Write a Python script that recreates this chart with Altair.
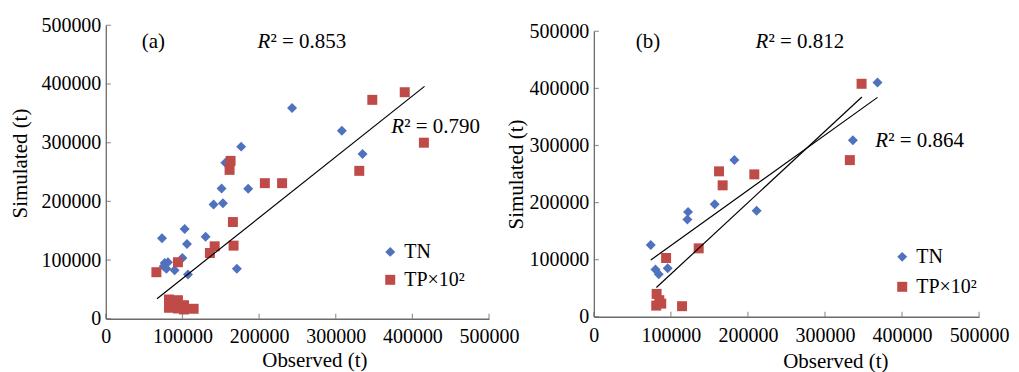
import altair as alt
import pandas as pd

SERIES = ["TN", "TP×10²"]
COLORS = ["#4F71BE", "#BE4B48"]
SHAPES = ["diamond", "square"]
TICKS = [0, 100000, 200000, 300000, 400000, 500000]
X_TITLE = "Observed (t)"
Y_TITLE = "Simulated (t)"

# ---- panel (a) ----
A_TN_X = [73300, 76800, 81100, 75500, 79000, 89800, 99900, 102900, 105900, 107200, 130200,
          140600, 151000, 152800, 156000, 176600, 185800, 171000, 243000, 308000, 335000]
A_TN_Y = [137000, 95200, 96300, 89500, 85000, 82700, 103700, 153000, 127400, 75300, 139900,
          194800, 222000, 197000, 266000, 293300, 221400, 85000, 359000, 320500, 280900]
A_TP_X = [66000, 94100, 82400, 82400, 94100, 94100, 102000, 102000, 114600, 135800, 142000,
          162800, 161500, 165800, 166700, 207500, 230000, 330700, 347700, 390000, 415000]
A_TP_Y = [79300, 96300, 32800, 18700, 31600, 17500, 23100, 15800, 17000, 112000, 123400,
          269000, 253700, 164800, 124600, 231000, 231000, 252000, 373000, 386000, 300000]
A_LINE_X = [66800, 415800]
A_LINE_Y = [34000, 396000]
A_TEXTS = ["(a)", "R", "² = 0.853", "R", "² = 0.790"]

# ---- panel (b) ----
B_TN_X = [73900, 80000, 84300, 95900, 121400, 122300, 156900, 182400, 211300, 336200, 368200]
B_TN_Y = [125600, 82600, 74400, 84900, 170300, 183700, 197100, 274400, 185500, 309300, 410500]
B_TP_X = [93800, 136100, 162500, 167200, 208300, 332300, 347500, 81500, 85000, 87500, 81000, 114500]
B_TP_Y = [102900, 119800, 254700, 230200, 249400, 274400, 408100, 40000, 29000, 23000, 19500, 18500]
B_LINE1_X = [73900, 368200]
B_LINE1_Y = [99400, 384300]
B_LINE2_X = [81200, 347900]
B_LINE2_Y = [51200, 384900]
B_TEXTS = ["(b)", "R", "² = 0.812", "R", "² = 0.864"]

FONT = "'Liberation Serif', 'Times New Roman', Times, serif"
DOMAIN = "#6b6b6b"


def panel(tn_x, tn_y, tp_x, tp_y, lines, texts, g):
    xs = alt.Scale(domain=[0, 500000])
    ys = alt.Scale(domain=[0, 500000], range=g["yrange"]) if g.get("yrange") else alt.Scale(domain=[0, 500000])
    xaxis = alt.Axis(values=TICKS, format="d", labelFlush=False, ticks=False, grid=False,
                     labelPadding=g["xlp"], titlePadding=g["xtp"], titleX=g["titleX"])
    yaxis = alt.Axis(values=TICKS, format="d", ticks=False, grid=False,
                     labelPadding=5, titlePadding=g["ytp"], titleY=g["titleY"])
    df = pd.DataFrame({
        "x": list(tn_x) + list(tp_x),
        "y": list(tn_y) + list(tp_y),
        "s": [SERIES[0]] * len(tn_x) + [SERIES[1]] * len(tp_x),
    })
    leg = alt.Legend(orient="none", legendX=g["legX"], legendY=g["legY"], title=None,
                     labelFont=FONT, labelFontSize=20, labelColor="black", symbolSize=100,
                     rowPadding=g["rowpad"], padding=0, labelOffset=4, symbolStrokeWidth=0,
                     labelLimit=200)
    pts = alt.Chart(df).mark_point(filled=True, opacity=1, size=100, strokeWidth=0).encode(
        x=alt.X("x:Q", scale=xs, axis=xaxis, title=X_TITLE),
        y=alt.Y("y:Q", scale=ys, axis=yaxis, title=Y_TITLE),
        color=alt.Color("s:N", scale=alt.Scale(domain=SERIES, range=COLORS), legend=leg),
        shape=alt.Shape("s:N", scale=alt.Scale(domain=SERIES, range=SHAPES), legend=leg),
    )
    rows = []
    for i, (lx, ly) in enumerate(lines):
        for xv, yv in zip(lx, ly):
            rows.append({"x": xv, "y": yv, "g": i})
    ldf = pd.DataFrame(rows)
    ln = alt.Chart(ldf).mark_line(color="black", strokeWidth=1.2).encode(
        x=alt.X("x:Q", scale=xs, title=X_TITLE),
        y=alt.Y("y:Q", scale=ys, title=Y_TITLE),
        detail="g:N",
    )
    tdf = pd.DataFrame({"v": TICKS})
    xt = alt.Chart(tdf).mark_tick(orient="vertical", size=5, thickness=1.2, yOffset=-2.5,
                                  color=DOMAIN).encode(
        x=alt.X("v:Q", scale=xs, title=X_TITLE),
        y=alt.YDatum(0, scale=ys, title=Y_TITLE),
    )
    yt = alt.Chart(tdf).mark_tick(orient="horizontal", size=5, thickness=1.2, xOffset=2.5,
                                  color=DOMAIN).encode(
        x=alt.XDatum(0, scale=xs, title=X_TITLE),
        y=alt.Y("v:Q", scale=ys, title=Y_TITLE),
    )
    layers = [pts, ln, xt, yt]
    styles = [dict(fontStyle="normal"), dict(fontStyle="italic"), dict(fontStyle="normal"),
              dict(fontStyle="italic"), dict(fontStyle="normal")]
    for t, st, (px, py) in zip(texts, styles, g["txt"]):
        layers.append(
            alt.Chart(pd.DataFrame({"t": [t]})).mark_text(
                font=FONT, fontSize=21, align="left", baseline="alphabetic", color="black", **st
            ).encode(text="t:N", x=alt.value(px), y=alt.value(py))
        )
    return alt.layer(*layers).properties(width=g["w"], height=g["h"])


GA = dict(w=384, h=294, xlp=8, xtp=3, titleX=209, ytp=10, titleY=138,
          legX=275, legY=217, rowpad=8,
          txt=[(36, 23), (152, 23), (165, 23), (286, 108), (299, 108)])
GB = dict(w=386, h=292, yrange=[292, 6], xlp=9, xtp=5, titleX=242, ytp=2, titleY=149,
          legX=299, legY=222, rowpad=10,
          txt=[(42, 23), (162, 23), (175, 23), (282, 122), (295, 122)])

pa = panel(A_TN_X, A_TN_Y, A_TP_X, A_TP_Y, [(A_LINE_X, A_LINE_Y)], A_TEXTS, GA)
pb = panel(B_TN_X, B_TN_Y, B_TP_X, B_TP_Y, [(B_LINE1_X, B_LINE1_Y), (B_LINE2_X, B_LINE2_Y)], B_TEXTS, GB)

chart = alt.HConcatChart(hconcat=[pa, pb], spacing=105, bounds="flush").resolve_scale(
    color="independent", shape="independent"
).properties(
    padding={"left": 2, "top": 7, "right": 2, "bottom": 0}
).configure_view(stroke=None).configure_axis(
    domainColor=DOMAIN, domainWidth=1.3, labelFont=FONT, titleFont=FONT,
    labelFontSize=20, titleFontSize=21, labelColor="black", titleColor="black",
    titleFontWeight="normal",
)

chart.save("out.html", embed_options={"renderer": "svg", "actions": False})
